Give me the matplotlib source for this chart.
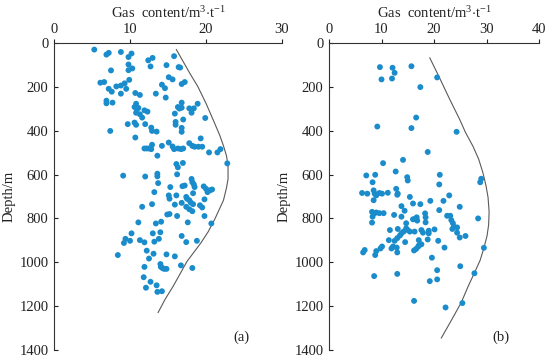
import matplotlib
matplotlib.use("Agg")
import matplotlib.pyplot as plt

# ---------------- Panel (a) data ----------------
a_gas = [5.3, 6.9, 7.2, 8.8, 10.2, 9.8, 12.4, 12.97, 12.7, 9.8, 9.8, 10.3, 7.5, 15.8, 14.8, 16.4, 16.6,
         9.9, 15.1, 15.6, 16.8, 17.2, 6.1, 6.6, 7.2, 7.6, 8.2, 8.8, 9.3, 9.5, 8.8, 10.7, 11.3, 14.2, 14.6,
         14.7, 13.4, 6.9, 6.9, 7.7, 10.8, 10.9, 10.6, 11.1, 10.8, 11.3, 11.9, 12.3, 11.6, 9.7, 10.6, 10.8,
         12.0, 12.8, 12.9, 13.5, 7.4, 10.7, 16.8, 16.3, 16.5, 16.8, 15.9, 17.0, 16.0, 16.0, 16.8, 16.8,
         17.8, 18.1, 18.4, 18.9, 19.9, 19.3, 15.1, 15.6, 15.8, 14.2, 12.9, 11.9, 12.2, 12.5, 12.8, 13.6,
         16.3, 16.7, 17.0, 17.8, 18.2, 18.5, 19.0, 19.5, 20.4, 21.5, 21.9, 22.8, 16.1, 16.3, 16.96, 16.2,
         13.6, 13.6, 9.1, 12.0, 18.1,
         13.7, 15.3, 16.9, 17.2, 18.2, 18.4, 18.5, 19.7, 20.0, 20.5, 20.8, 20.2, 18.3, 13.2, 15.1, 15.2,
         16.1, 17.4, 17.5, 17.8, 18.0, 18.3, 16.8, 15.9, 12.9, 11.6, 19.8, 19.2, 19.5, 17.4, 17.8, 18.2,
         14.9, 15.2, 16.2, 19.8, 20.7, 17.6, 11.1, 13.4, 14.1, 10.2, 9.4, 10.0, 9.2, 11.3, 11.9, 13.0,
         13.99, 13.2, 13.8, 16.8, 17.4, 18.8, 8.4, 12.2, 12.5, 13.1, 14.8, 15.9, 11.9, 14.0, 14.06, 14.3,
         14.5, 14.8, 16.7, 18.2, 11.8, 12.7, 12.1, 13.5, 13.6, 14.2]
a_depth = [30, 53, 45, 41, 48, 64, 79, 68, 107, 98, 124, 116, 125, 60, 101, 110, 112,
           168, 156, 166, 187, 178, 181, 178, 209, 222, 198, 194, 184, 209, 231, 228, 237, 190, 206,
           249, 231, 263, 275, 272, 277, 302, 292, 296, 318, 325, 307, 313, 340, 370, 363, 373,
           370, 386, 401, 404, 401, 431, 272, 292, 299, 295, 322, 349, 360, 373, 387, 405,
           298, 318, 298, 277, 342, 435, 454, 472, 484, 469, 464, 481, 481, 481, 484, 514,
           481, 484, 481, 457, 469, 473, 473, 473, 499, 499, 484, 549, 552, 567, 547, 599,
           596, 608, 605, 609, 620,
           639, 657, 653, 650, 635, 645, 657, 654, 665, 672, 668, 680, 685, 680, 695, 710,
           695, 702, 710, 717, 728, 735, 729, 737, 735, 747, 713, 740, 750, 747, 758, 767,
           782, 780, 789, 789, 823, 818, 818, 823, 815, 868, 893, 902, 912, 899, 909, 868,
           863, 906, 893, 880, 908, 902, 967, 947, 983, 961, 964, 973, 1021, 1008, 1021, 1027,
           1030, 1030, 1014, 1026, 1068, 1089, 1116, 1105, 1135, 1132]

a_curve_gas = [16.1, 17.0, 17.9, 18.9, 20.0, 21.0, 21.8, 22.3, 22.7, 22.9, 22.9, 22.7, 22.3, 21.2,
               20.3, 19.3, 17.5, 15.7, 14.6, 13.7]
a_curve_depth = [30, 85, 140, 197, 275, 355, 420, 469, 515, 559, 620, 660, 717, 800,
                 860, 913, 996, 1108, 1170, 1229]

# ---------------- Panel (b) data ----------------
b_gas = [9.7, 12.1, 12.5, 12.0, 10.0, 15.7, 20.6, 17.4, 16.6, 9.2, 15.7, 24.3, 18.8, 10.3, 14.1, 12.7,
         14.9, 21.1, 7.1, 8.8, 29.0,
         8.3, 15.0, 21.0, 28.8, 6.3, 7.3, 8.5, 8.7, 9.0, 9.6, 10.1, 11.2, 8.5, 12.8, 13.1, 13.0, 15.4,
         16.0, 17.4, 19.3, 21.8, 22.9, 24.9, 13.8, 14.4, 8.2, 9.0, 8.6, 9.6, 10.4, 8.3, 8.2, 12.4, 13.8,
         16.0, 16.3, 16.7, 16.8, 18.3, 18.4, 18.4, 21.0, 22.5, 23.1, 23.3, 23.6, 23.8, 24.4, 23.5, 28.4,
         14.7, 11.6, 13.1, 14.7, 15.0, 14.2, 13.8, 13.5, 13.0, 12.5, 11.4, 12.2, 12.9, 11.9, 13.0, 14.5,
         15.4, 16.3, 17.1, 17.6, 17.9, 19.0, 19.0, 18.8, 20.1, 17.6, 17.0, 16.2, 16.6, 17.1, 20.8, 22.0,
         24.9, 26.0, 24.4, 10.1, 9.8, 9.0, 8.8, 6.8, 6.5, 29.5, 19.6, 25.0, 20.6, 20.6, 19.2, 8.6, 13.0,
         27.7, 16.2, 22.2, 25.4]
b_depth = [110, 113, 136, 162, 166, 106, 157, 201, 340, 381, 388, 405, 497, 548, 533, 586,
           612, 601, 604, 601, 619,
           635, 627, 645, 635, 684, 687, 672, 687, 695, 684, 687, 683, 717, 665, 687, 692, 702,
           732, 735, 720, 720, 695, 747, 744, 765, 770, 773, 777, 776, 776, 792, 819, 784, 792,
           804, 803, 795, 810, 777, 795, 818, 762, 788, 788, 808, 822, 838, 841, 848, 800,
           822, 853, 848, 845, 853, 860, 868, 878, 890, 902, 899, 928, 933, 937, 955, 908,
           860, 860, 899, 853, 865, 868, 856, 896, 850, 918, 928, 946, 939, 924, 902, 933,
           887, 880, 865, 928, 937, 949, 967, 944, 955, 934, 979, 1018, 1036, 1078, 1086, 1063, 1053,
           1050, 1176, 1206, 1186]

b_curve_gas = [19.2, 20.9, 23.0, 24.9, 26.0, 27.4, 28.5, 29.3, 29.9, 30.3, 30.5, 30.4, 30.1, 29.5,
               28.8, 27.8, 26.5, 25.2, 23.3, 21.4]
b_curve_depth = [68, 151, 257, 349, 408, 470, 529, 590, 650, 705, 770, 830, 880, 935,
                 990, 1043, 1110, 1183, 1265, 1345]

plt.rcParams['font.family'] = ['Liberation Serif', 'DejaVu Serif']
plt.rcParams['mathtext.fontset'] = 'custom'
plt.rcParams['mathtext.rm'] = 'Liberation Serif'
plt.rcParams['mathtext.it'] = 'Liberation Serif:italic'
plt.rcParams['mathtext.default'] = 'rm'

DOT = '#1a8ccb'
LINE = '#5a5a5a'
TXT = '#222222'

fig = plt.figure(figsize=(5.5, 3.61), dpi=100)
ax1 = fig.add_axes([54/550, 1-350/361, 228/550, 307/361])
ax2 = fig.add_axes([329/550, 1-350/361, 210/550, 307/361])

panels = [(ax1, a_gas, a_depth, a_curve_gas, a_curve_depth, 30, '(a)'),
          (ax2, b_gas, b_depth, b_curve_gas, b_curve_depth, 40, '(b)')]

for ax, g, d, cg, cd, xmax, tag in panels:
    ax.scatter(g, d, s=18, color=DOT, edgecolors='none', zorder=3)
    ax.plot(cg, cd, color=LINE, lw=0.8, zorder=2)
    ax.set_xlim(0, xmax)
    ax.set_ylim(1400, 0)
    ax.set_xticks(range(0, xmax + 1, 10))
    ax.set_yticks(range(0, 1401, 200))
    ax.xaxis.tick_top()
    ax.xaxis.set_label_position('top')
    ax.spines['right'].set_visible(False)
    ax.spines['bottom'].set_visible(False)
    for sp in ('top', 'left'):
        ax.spines[sp].set_color('#333333')
        ax.spines[sp].set_linewidth(0.8)
    ax.tick_params(axis='x', direction='out', length=3, width=0.8, labelsize=10.5, pad=2, colors=TXT)
    ax.tick_params(axis='y', direction='in', length=3, width=0.8, labelsize=10.5, pad=4, colors=TXT)
    ax.set_xlabel('Gas  content/m$^{3}$$\\cdot$t$^{-1}$', fontsize=10.5, labelpad=4, color=TXT)
    ax.set_ylabel('Depth/m', fontsize=10.5, labelpad=3, color=TXT)
    ax.text(0.82, 0.04, tag, transform=ax.transAxes, fontsize=10.5, ha='center', va='center', color=TXT)

fig.savefig('out.png', dpi=100)
